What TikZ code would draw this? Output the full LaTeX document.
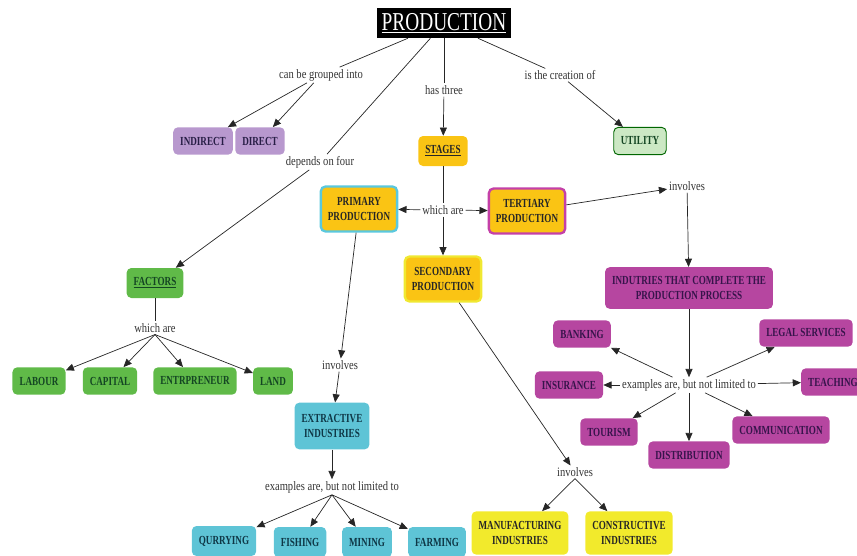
\documentclass[tikz,border=0pt]{standalone}
\usepackage{fontspec}
\setmainfont{Liberation Serif}[FakeStretch=0.82]
\newfontfamily\condfont{Liberation Serif}[FakeStretch=0.74]
\newfontfamily\titlefont{Liberation Serif}[FakeStretch=0.75]
\usetikzlibrary{arrows.meta}

\definecolor{lavfill}{RGB}{184,152,206}
\definecolor{goldfill}{RGB}{250,196,20}
\definecolor{utilfill}{RGB}{204,232,196}
\definecolor{greenfill}{RGB}{96,186,72}
\definecolor{cyanfill}{RGB}{94,196,214}
\definecolor{magfill}{RGB}{182,70,160}
\definecolor{yelfill}{RGB}{242,234,44}
\definecolor{cyanline}{RGB}{90,200,222}
\definecolor{magline}{RGB}{196,64,168}
\definecolor{yelline}{RGB}{240,232,50}
\definecolor{lavtext}{RGB}{40,30,70}
\definecolor{grntext}{RGB}{20,70,35}
\definecolor{cyntext}{RGB}{15,55,70}
\definecolor{magtext}{RGB}{55,20,75}

\tikzset{
concept/.style={rectangle,rounded corners=4pt,align=center,
  font=\condfont\bfseries\fontsize{10.5}{13}\selectfont,
  inner xsep=6pt,inner ysep=3pt,minimum height=0.82cm},
linkph/.style={font=\fontsize{11}{12}\selectfont,text=black!80,inner sep=1.5pt},
conn/.style={draw=black!85,line width=0.6pt},
arr/.style={conn,-{Triangle[length=7pt,width=6pt]}},
lav/.style={concept,fill=lavfill,text=lavtext},
gold/.style={concept,fill=goldfill,text=black!85},
grn/.style={concept,fill=greenfill,text=grntext},
cyn/.style={concept,fill=cyanfill,text=cyntext},
mag/.style={concept,fill=magfill,text=magtext},
yel/.style={concept,fill=yelfill,text=black!85},
}

\begin{document}
\begin{tikzpicture}[x=0.03cm,y=-0.03cm]
\useasboundingbox (0,0) rectangle (857,556);
\clip (0,0) rectangle (857,556);

\node[concept,fill=black,text=white,rounded corners=0pt,
font=\titlefont\fontsize{22}{24}\selectfont,
inner xsep=4pt,minimum height=0.9cm](prod) at (444,23){\underline{PRODUCTION}};

\node[linkph](grp) at (321,75){can be grouped into};
\node[linkph](three) at (444,90){has three};
\node[linkph](creat) at (560,75){is the creation of};
\node[linkph](dep) at (320,162){depends on four};

\node[lav](indir) at (203,141){INDIRECT};
\node[lav](dir) at (260,141){DIRECT};
\node[gold,minimum height=0.9cm](stages) at (443,151){\underline{STAGES}};
\node[concept,fill=utilfill,draw=black!60!green,line width=0.8pt,
text=grntext](util) at (640,141){UTILITY};

% stages
\node[gold,draw=cyanline,line width=2pt,minimum height=1.35cm](prim) at (359,209){PRIMARY\\PRODUCTION};
\node[linkph,fill=white](which) at (443,210){which are};
\node[gold,draw=magline,line width=2pt,minimum height=1.35cm](tert) at (527,211){TERTIARY\\PRODUCTION};
\node[gold,draw=yelline,line width=2pt,minimum height=1.35cm](sec) at (443,279){SECONDARY\\PRODUCTION};

% factors
\node[grn,minimum height=0.9cm](fact) at (155,283){\underline{FACTORS}};
\node[linkph](fwhich) at (155,328){which are};
\node[grn](labour) at (39,381){LABOUR};
\node[grn](capital) at (110,381){CAPITAL};
\node[grn](entr) at (195,381){ENTRPRENEUR};
\node[grn](land) at (273,381){LAND};

% primary
\node[linkph](pinv) at (340,365){involves};
\node[cyn,minimum height=1.4cm](extr) at (332,426){EXTRACTIVE\\INDUSTRIES};
\node[linkph](pex) at (332,487){examples are, but not limited to};
\node[cyn,minimum height=0.9cm](qurr) at (224,541){QURRYING};
\node[cyn,minimum height=0.9cm](fish) at (300,542){FISHING};
\node[cyn,minimum height=0.9cm](mining) at (367,542){MINING};
\node[cyn,minimum height=0.9cm](farm) at (437,542){FARMING};

% secondary
\node[linkph](sinv) at (575,472){involves};
\node[yel,minimum height=1.3cm](manu) at (520,533){MANUFACTURING\\INDUSTRIES};
\node[yel,minimum height=1.3cm](constr) at (629,533){CONSTRUCTIVE\\INDUSTRIES};

% tertiary
\node[linkph](tinv) at (687,186){involves};
\node[mag,minimum height=1.25cm](indus) at (689,288){INDUTRIES THAT COMPLETE THE\\PRODUCTION PROCESS};
\node[linkph](tex) at (689,385){examples are, but not limited to};
\node[mag](bank) at (582,334){BANKING};
\node[mag](legal) at (806,333){LEGAL SERVICES};
\node[mag](insur) at (569,385){INSURANCE};
\node[mag](teach) at (833,382){TEACHING};
\node[mag](tour) at (609,432){TOURISM};
\node[mag](distr) at (689,455){DISTRIBUTION};
\node[mag](comm) at (781,430){COMMUNICATION};

\draw[conn] (prod) -- (grp);
\draw[conn] (prod) -- (dep);
\draw[conn] (prod) -- (three);
\draw[conn] (prod) -- (creat);
\draw[arr] (grp) -- (indir);
\draw[arr] (grp) -- (dir);
\draw[arr] (three) -- (stages);
\draw[arr] (creat) -- (util);
\draw[arr] (dep) -- (fact);

\draw[conn] (stages) -- (which);
\draw[arr] (which) -- (prim);
\draw[arr] (which) -- (tert);
\draw[arr] (which) -- (sec);

\draw[conn] (fact) -- (fwhich);
\draw[arr] (fwhich.south) -- (labour);
\draw[arr] (fwhich.south) -- (capital);
\draw[arr] (fwhich.south) -- (entr);
\draw[arr] (fwhich.south) -- (land);

\draw[arr] (prim) -- (pinv);
\draw[arr] (pinv) -- (extr);
\draw[arr] (extr) -- (pex);
\draw[arr] (pex.south) -- (qurr);
\draw[arr] (pex.south) -- (fish);
\draw[arr] (pex.south) -- (mining);
\draw[arr] (pex.south) -- (farm);

\draw[arr] (sec) -- (sinv);
\draw[arr] (sinv.south) -- (manu);
\draw[arr] (sinv.south) -- (constr);

\draw[arr] (tert) -- (tinv);
\draw[arr] (tinv) -- (indus);
\draw[arr] (indus) -- (tex);
\draw[arr] (tex) -- (bank);
\draw[arr] (tex) -- (legal);
\draw[arr] (tex) -- (insur);
\draw[arr] (tex) -- (teach);
\draw[arr] (tex) -- (tour);
\draw[arr] (tex) -- (distr);
\draw[arr] (tex) -- (comm);
\end{tikzpicture}
\end{document}
